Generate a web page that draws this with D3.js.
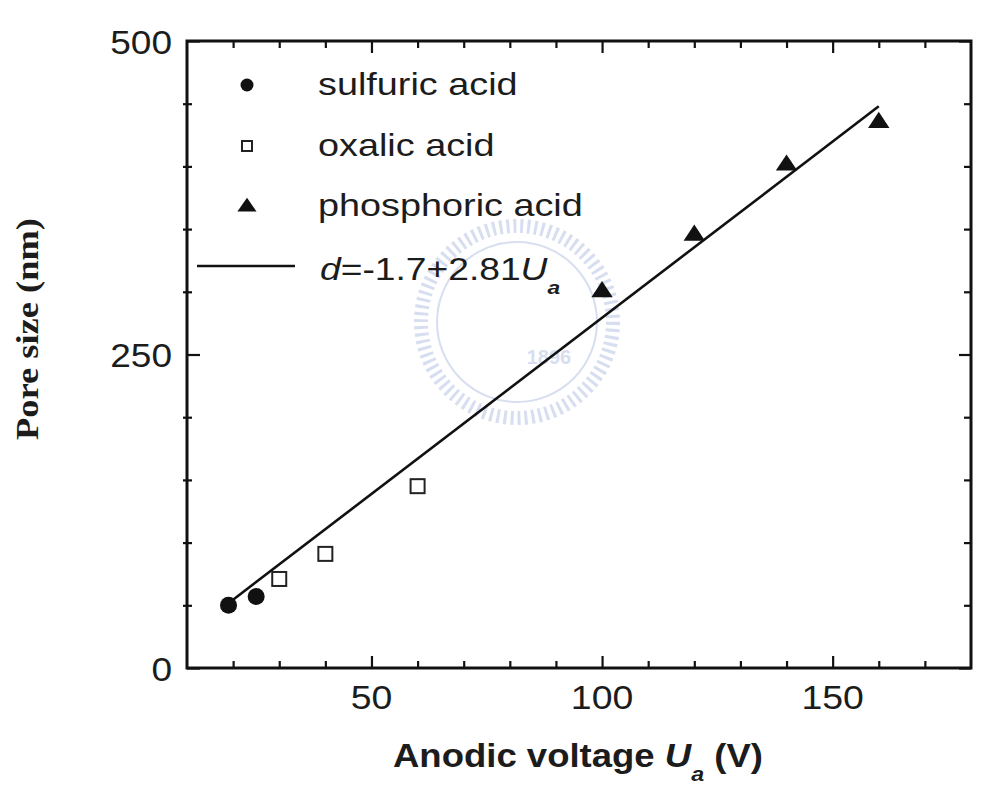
<!DOCTYPE html>
<html>
<head>
<meta charset="utf-8">
<script src="https://cdn.jsdelivr.net/npm/d3@7"></script>
<style>
  body { margin: 0; background: #fff; }
  svg { display: block; }
  text { fill: #1c1c1c; }
</style>
</head>
<body>
<svg id="main" width="985" height="798"></svg>
<script>
// data
const sulfuricV = [19, 25];
const sulfuricD = [50, 57];
const oxalicV = [30, 40, 60];
const oxalicD = [71, 91, 145];
const phosphoricV = [100, 120, 140, 160];
const phosphoricD = [300, 345, 401, 435];
const fitIntercept = -1.7, fitSlope = 2.81;
const fitRange = [19, 160];

const xMajor = [50, 100, 150];
const xMinor = d3.range(20, 180, 10).filter(v => v % 50 != 0);
const yMajor = [0, 250, 500];
const yMinor = d3.range(50, 500, 50).filter(v => v % 250 != 0);
const legendLabels = ['sulfuric acid', 'oxalic acid', 'phosphoric acid'];

const pLeft = 187, pRight = 971, pTop = 41, pBottom = 668;

let svg = d3.select('#main');

let x = d3.scaleLinear().domain([10, 180]).range([pLeft, pRight]);
let y = d3.scaleLinear().domain([0, 500]).range([pBottom, pTop]);

// stretch a text horizontally about its left edge (picture is wider than tall)
function stretch(sel, k) {
  sel.each(function() {
    let b = this.getBBox();
    let x0 = b.x;
    d3.select(this).attr('transform', `translate(${x0},0) scale(${k},1) translate(${-x0},0)`);
  });
}
function stretchMid(sel, k) {
  sel.each(function() {
    let b = this.getBBox();
    let cx = b.x + b.width / 2;
    d3.select(this).attr('transform', `translate(${cx},0) scale(${k},1) translate(${-cx},0)`);
  });
}

// faint watermark seal behind everything
let wm = svg.append('g').attr('transform', 'translate(517,322)').style('opacity', 0.35);
wm.append('circle').attr('r', 96).attr('fill', 'none').attr('stroke', '#8fa3d6')
  .attr('stroke-width', 14).attr('stroke-dasharray', '3 4');
wm.append('circle').attr('r', 80).attr('fill', 'none').attr('stroke', '#8fa3d6').attr('stroke-width', 2);
wm.append('text').attr('x', 32).attr('y', 42).attr('text-anchor', 'middle')
  .style('font', 'bold 20px "Liberation Sans", Arial, sans-serif').style('fill', '#8fa3d6').text('1896');

// axes
let axisG = svg.append('g').attr('class', 'axes');

function drawTicks(g, scale, values, len, orient) {
  let ax;
  if (orient == 'bottom') ax = d3.axisBottom(scale);
  if (orient == 'top') ax = d3.axisTop(scale);
  if (orient == 'left') ax = d3.axisLeft(scale);
  if (orient == 'right') ax = d3.axisRight(scale);
  ax.tickValues(values).tickSize(len).tickFormat('');
  g.call(ax);
  g.select('.domain').remove();
  g.selectAll('.tick line').attr('stroke', '#111').attr('stroke-width', 2.2);
}

drawTicks(axisG.append('g').attr('transform', `translate(0,${pBottom})`), x, xMajor, -12, 'bottom');
drawTicks(axisG.append('g').attr('transform', `translate(0,${pBottom})`), x, xMinor, -7, 'bottom');
drawTicks(axisG.append('g').attr('transform', `translate(0,${pTop})`), x, xMajor, -12, 'top');
drawTicks(axisG.append('g').attr('transform', `translate(0,${pTop})`), x, xMinor, -7, 'top');
drawTicks(axisG.append('g').attr('transform', `translate(${pLeft},0)`), y, yMajor, -13, 'left');
drawTicks(axisG.append('g').attr('transform', `translate(${pLeft - 4},0)`), y, yMinor, -9, 'left');
drawTicks(axisG.append('g').attr('transform', `translate(${pRight},0)`), y, yMajor, -12, 'right');
drawTicks(axisG.append('g').attr('transform', `translate(${pRight},0)`), y, yMinor, -7, 'right');

// frame
axisG.append('rect')
  .attr('x', x(10)).attr('y', y(500))
  .attr('width', x(180) - x(10)).attr('height', y(0) - y(500))
  .attr('fill', 'none').attr('stroke', '#111').attr('stroke-width', 3);

// tick labels
let tickFont = '34px "Liberation Sans", Arial, Helvetica, sans-serif';
svg.append('g').selectAll('text').data(xMajor).join('text')
  .attr('x', d => x(d)).attr('y', 709)
  .attr('text-anchor', 'middle')
  .style('font', tickFont)
  .text(d => d)
  .call(stretchMid, 1.1);

svg.append('g').selectAll('text').data(yMajor).join('text')
  .attr('x', pLeft - 15).attr('y', d => y(d) + 13)
  .attr('text-anchor', 'end')
  .style('font', tickFont)
  .text(d => d)
  .each(function() {
    let b = this.getBBox();
    let x1 = b.x + b.width;
    d3.select(this).attr('transform', `translate(${x1},0) scale(1.09,1) translate(${-x1},0)`);
  });

// axis titles
let xt = svg.append('text')
  .attr('x', 393).attr('y', 767)
  .style('font', 'bold 33px "Liberation Sans", Arial, Helvetica, sans-serif');
xt.append('tspan').text('Anodic voltage ');
xt.append('tspan').style('font-style', 'italic').text('U');
xt.append('tspan').style('font-style', 'italic').style('font-size', '21px').attr('dy', 14).text('a');
xt.append('tspan').attr('dy', -14).text(' (V)');
xt.call(function(sel) {
  let b = sel.node().getBBox();
  stretch(sel, 370 / b.width);
});

svg.append('g')
  .attr('transform', `translate(38,329) rotate(-90)`)
  .append('text')
  .attr('text-anchor', 'middle')
  .attr('textLength', 222).attr('lengthAdjust', 'spacingAndGlyphs')
  .style('font', 'bold 32px "Liberation Serif", "Times New Roman", serif')
  .text('Pore size (nm)');

// fit line
let line = d3.line().x(d => x(d)).y(d => y(fitIntercept + fitSlope * d));
svg.append('path')
  .datum(fitRange)
  .attr('d', line)
  .attr('fill', 'none').attr('stroke', '#111').attr('stroke-width', 2.6);

// markers
let marks = svg.append('g');
marks.selectAll('.sulf').data(d3.zip(sulfuricV, sulfuricD)).join('circle')
  .attr('class', 'sulf')
  .attr('cx', d => x(d[0])).attr('cy', d => y(d[1]))
  .attr('r', 8.5).attr('fill', '#111');

marks.selectAll('.oxal').data(d3.zip(oxalicV, oxalicD)).join('rect')
  .attr('class', 'oxal')
  .attr('x', d => x(d[0]) - 7).attr('y', d => y(d[1]) - 7)
  .attr('width', 14).attr('height', 14)
  .attr('fill', 'none').attr('stroke', '#222').attr('stroke-width', 2);

let tri = d3.symbol().type(d3.symbolTriangle).size(150);
marks.selectAll('.phos').data(d3.zip(phosphoricV, phosphoricD)).join('path')
  .attr('class', 'phos')
  .attr('transform', d => `translate(${x(d[0])},${y(d[1])}) scale(1.15,1)`)
  .attr('d', tri).attr('fill', '#111');

// legend
let lg = svg.append('g');
let rowY = [85, 146, 206, 266];
let legendFont = '31px "Liberation Sans", Arial, Helvetica, sans-serif';

lg.append('circle').attr('cx', 247).attr('cy', rowY[0]).attr('r', 6.5).attr('fill', '#111');
lg.append('rect').attr('x', 242).attr('y', rowY[1] - 5).attr('width', 10).attr('height', 10)
  .attr('fill', 'none').attr('stroke', '#222').attr('stroke-width', 2);
lg.append('path').attr('transform', `translate(247,${rowY[2] + 1}) scale(1.2,1)`)
  .attr('d', d3.symbol().type(d3.symbolTriangle).size(110)).attr('fill', '#111');
lg.append('line').attr('x1', 197).attr('x2', 295).attr('y1', rowY[3]).attr('y2', rowY[3])
  .attr('stroke', '#111').attr('stroke-width', 2.6);

lg.selectAll('.lt').data(legendLabels).join('text')
  .attr('class', 'lt')
  .attr('x', 318).attr('y', (d, i) => rowY[i] + 10)
  .style('font', legendFont)
  .text(d => d)
  .call(stretch, 1.22);

let ft = lg.append('text').attr('x', 320).attr('y', rowY[3] + 14).style('font', legendFont);
ft.append('tspan').style('font-style', 'italic').text('d');
ft.append('tspan').text('=-1.7+2.81');
ft.append('tspan').style('font-style', 'italic').text('U');
ft.append('tspan').style('font-style', 'italic').style('font-weight', 'bold').style('font-size', '19px').attr('dy', 14).text('a');
ft.call(stretch, 1.2);
</script>
</body>
</html>
